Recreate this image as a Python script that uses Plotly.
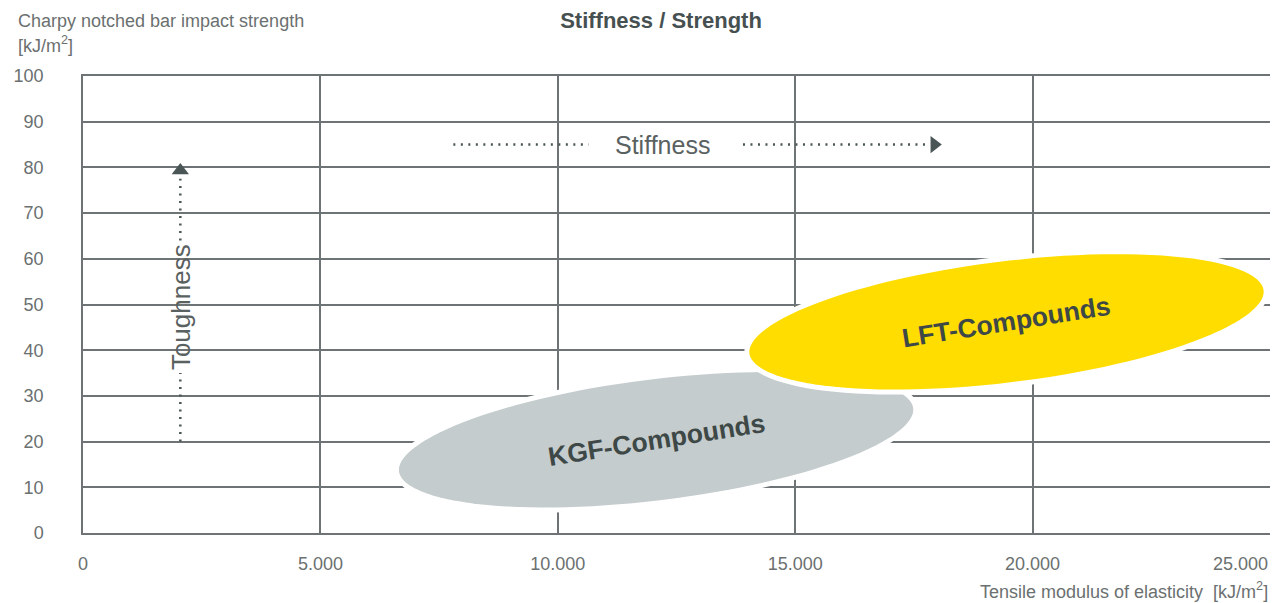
import numpy as np
import plotly.graph_objects as go

# axis ticks
x_ticks = [0, 5000, 10000, 15000, 20000, 25000]
x_tick_labels = ["0", "5.000", "10.000", "15.000", "20.000", "25.000"]
y_ticks = [0, 10, 20, 30, 40, 50, 60, 70, 80, 90, 100]

# compound regions (centre of each ellipse in data units)
compounds = ["KGF-Compounds", "LFT-Compounds"]
center_modulus = [12070, 19450]
center_impact = [20.4, 46.2]
fill_colors = ["#c5cccd", "#ffdd00"]

# stiffness / toughness arrows
stiff_left = [7800, 10650]
stiff_right = [13900, 17750]
stiff_tip = 18100
stiff_level = 85
stiff_label_x = 12200
tough_low = [20, 35]
tough_high = [64, 77.5]
tough_tip = 81
tough_pos = 2050
tough_label_y = 49.5

# page body has an 8px margin, so the figure is drawn 8px smaller
W, H = 1270, 595
M = dict(l=75, r=6, t=68, b=70)
sx = 25000 / (W - M["l"] - M["r"])   # data units per pixel
sy = 100 / (H - M["t"] - M["b"])

GRID = "#6e7476"
TXT = "#6b7070"
FONT = "Liberation Sans"


def ellipse_path(cx, cy, a=262, b=63, ang=7):
    t = np.linspace(0, 2 * np.pi, 120)
    th = np.radians(ang)
    px = a * np.cos(t) * np.cos(th) - b * np.sin(t) * np.sin(th)
    py = a * np.cos(t) * np.sin(th) + b * np.sin(t) * np.cos(th)
    xs = cx + px * sx
    ys = cy + py * sy
    return "M " + " L ".join(f"{x:.1f},{y:.3f}" for x, y in zip(xs, ys)) + " Z"


fig = go.Figure()

dot = dict(color="#4a5555", width=2.5, dash="2px,5.5px")
fig.add_trace(go.Scatter(x=stiff_left, y=[stiff_level] * 2, mode="lines", line=dot, hoverinfo="skip"))
fig.add_trace(go.Scatter(x=stiff_right, y=[stiff_level] * 2, mode="lines", line=dot, hoverinfo="skip"))
fig.add_trace(go.Scatter(x=[stiff_tip - 170], y=[stiff_level], mode="markers",
                         marker=dict(symbol="triangle-right", size=15, color="#4a5555"), hoverinfo="skip"))
fig.add_trace(go.Scatter(x=[tough_pos] * 2, y=tough_low, mode="lines", line=dot, hoverinfo="skip"))
fig.add_trace(go.Scatter(x=[tough_pos] * 2, y=tough_high, mode="lines", line=dot, hoverinfo="skip"))
fig.add_trace(go.Scatter(x=[tough_pos], y=[tough_tip - 1.7], mode="markers",
                         marker=dict(symbol="triangle-up", size=15, color="#4a5555"), hoverinfo="skip"))

for name, cx, cy, col in zip(compounds, center_modulus, center_impact, fill_colors):
    fig.add_shape(type="path", path=ellipse_path(cx, cy), fillcolor=col,
                  line=dict(color="white", width=5), layer="above")
    fig.add_annotation(x=cx, y=cy, text=f"<b>{name}</b>", showarrow=False, textangle=-9,
                       font=dict(family=FONT, size=26.5, color="#3d4847"))

fig.add_annotation(x=stiff_label_x, y=stiff_level, text="Stiffness", showarrow=False,
                   font=dict(family=FONT, size=25, color="#5a6161"))
fig.add_annotation(x=tough_pos, y=tough_label_y, text="Toughness", showarrow=False, textangle=-90,
                   font=dict(family=FONT, size=26, color="#5a6161"))

# last x tick label sits right-aligned at the plot edge
fig.add_annotation(x=x_ticks[-1], y=0, yshift=-31, xanchor="right", yanchor="middle",
                   text=x_tick_labels[-1], showarrow=False, font=dict(family=FONT, size=18, color=TXT))

fig.add_annotation(xref="paper", yref="paper", x=0, xshift=-67, y=1, yshift=55, xanchor="left",
                   yanchor="middle", text="Charpy notched bar impact strength", showarrow=False,
                   font=dict(family=FONT, size=18, color=TXT))
fig.add_annotation(xref="paper", yref="paper", x=0, xshift=-67, y=1, yshift=32, xanchor="left",
                   yanchor="middle", text="[kJ/m<sup>2</sup>]", showarrow=False,
                   font=dict(family=FONT, size=18, color=TXT))
fig.add_annotation(xref="paper", yref="paper", x=1, y=0, yshift=-57, xanchor="right",
                   yanchor="middle", text="Tensile modulus of elasticity  [kJ/m<sup>2</sup>]",
                   showarrow=False, font=dict(family=FONT, size=18, color=TXT))

fig.update_layout(
    width=W, height=H, margin=M,
    paper_bgcolor="white", plot_bgcolor="white",
    showlegend=False,
    font=dict(family=FONT, color=TXT, size=18),
    title=dict(text="<b>Stiffness / Strength</b>", x=653 / W, xanchor="center", y=1 - 12 / H,
               yanchor="middle", font=dict(family=FONT, size=22, color="#465050")),
    xaxis=dict(range=[0, 25000], tickvals=x_ticks[:-1], ticktext=x_tick_labels[:-1], showgrid=True,
               gridcolor=GRID, gridwidth=1.5, showline=True, linecolor=GRID, linewidth=1.5,
               mirror=True, zeroline=False, ticklabelstandoff=14, fixedrange=True),
    yaxis=dict(range=[0, 100], tickvals=y_ticks, showgrid=True, gridcolor=GRID, gridwidth=1.5,
               showline=True, linecolor=GRID, linewidth=1.5, mirror=True, zeroline=False,
               ticklabelstandoff=34, fixedrange=True),
)

fig.write_html("out.html")
